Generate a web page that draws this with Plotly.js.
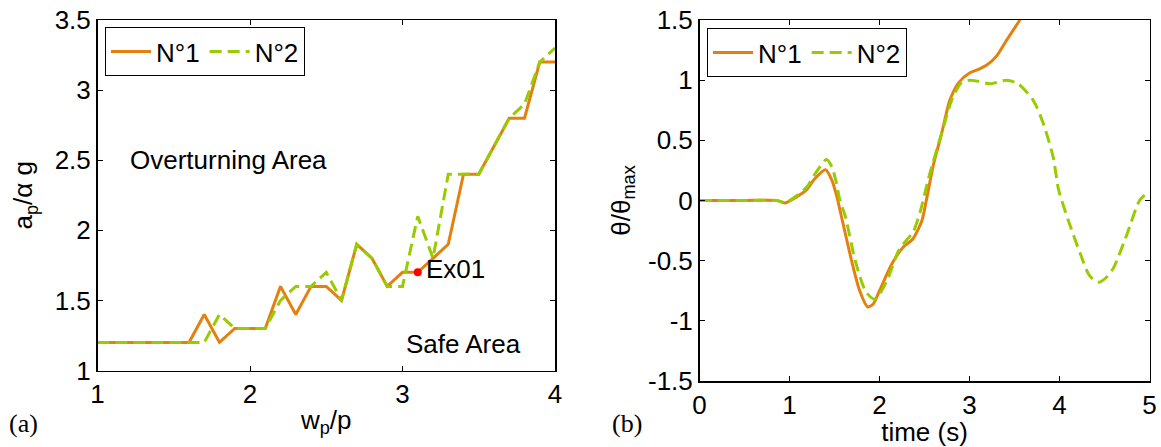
<!DOCTYPE html>
<html>
<head>
<meta charset="utf-8">
<script src="https://cdn.plot.ly/plotly-3.0.1.min.js"></script>
<style>html,body{margin:0;padding:0;background:#fff;}#chart{width:1161px;height:447px;}</style>
</head>
<body>
<div id="chart"></div>
<script>
// ---- Panel (a): stability boundary ----
const wpRatio = [1.0,1.1,1.2,1.3,1.4,1.5,1.6,1.7,1.8,1.9,2.0,2.1,2.2,2.3,2.4,2.5,2.6,2.7,2.8,2.9,3.0,3.1,3.2,3.3,3.4,3.5,3.6,3.7,3.8,3.9,4.0];
const apN1 = [1.2,1.2,1.2,1.2,1.2,1.2,1.2,1.4,1.2,1.3,1.3,1.3,1.6,1.4,1.6,1.6,1.5,1.9,1.8,1.6,1.7,1.7,1.8,1.9,2.4,2.4,2.6,2.8,2.8,3.2,3.2];
const apN2 = [1.2,1.2,1.2,1.2,1.2,1.2,1.2,1.2,1.4,1.3,1.3,1.3,1.5,1.6,1.6,1.7,1.5,1.9,1.8,1.6,1.6,2.1,1.8,2.4,2.4,2.4,2.6,2.8,2.9,3.2,3.3];
const exPoint = {x: [3.1], y: [1.7], label: "Ex01"};

// ---- Panel (b): rotation time histories ----
const timeN1 = [0,0.5,0.86,0.95,1.08,1.19,1.28,1.40,1.47,1.52,1.57,1.69,1.78,1.87,1.93,2.0,2.135,2.26,2.37,2.47,2.52,2.6,2.69,2.78,2.88,3.0,3.1,3.2,3.3,3.41,3.56,3.65];
const thetaN1 = [0,0,0,-0.02,0.03,0.09,0.18,0.255,0.17,0.05,-0.11,-0.5,-0.75,-0.885,-0.86,-0.75,-0.53,-0.39,-0.32,-0.17,0.0,0.3,0.556,0.83,0.98,1.06,1.09,1.13,1.2,1.33,1.5,1.6];
const timeN2 = [0,0.5,0.86,0.95,1.08,1.19,1.30,1.41,1.47,1.52,1.56,1.62,1.73,1.85,1.95,2.08,2.21,2.3,2.375,2.45,2.54,2.58,2.69,2.80,2.91,3.0,3.1,3.23,3.41,3.54,3.71,3.82,3.93,3.99,4.10,4.23,4.33,4.43,4.52,4.6,4.75,4.89,5.0];
const thetaN2 = [0,0,0,-0.02,0.04,0.11,0.24,0.34,0.28,0.15,0.0,-0.13,-0.5,-0.76,-0.82,-0.67,-0.42,-0.33,-0.26,-0.1,0.17,0.28,0.556,0.83,0.98,1.0,0.99,0.97,1.0,0.97,0.83,0.64,0.36,0.09,-0.17,-0.44,-0.62,-0.68,-0.64,-0.56,-0.28,0.0,0.08];

const seriesNames = ["N°1", "N°2"];
const cOrange = "#E5800F", cGreen = "#99CC00";
const W = 1161, H = 447;
const px = v => v / W, py = v => 1 - v / H;
const dashPat = "12px,6px";

const traces = [
  {x: wpRatio, y: apN1, name: seriesNames[0], type: "scatter", mode: "lines", xaxis: "x", yaxis: "y",
   line: {color: cOrange, width: 3}, legend: "legend"},
  {x: wpRatio, y: apN2, name: seriesNames[1], type: "scatter", mode: "lines", xaxis: "x", yaxis: "y",
   line: {color: cGreen, width: 3, dash: dashPat}, legend: "legend"},
  {x: exPoint.x, y: exPoint.y, type: "scatter", mode: "markers", xaxis: "x", yaxis: "y", showlegend: false,
   marker: {color: "#FF0000", size: 8}},
  {x: timeN1, y: thetaN1, name: seriesNames[0], type: "scatter", mode: "lines", xaxis: "x2", yaxis: "y2",
   line: {color: cOrange, width: 3, shape: "spline", smoothing: 0.7}, legend: "legend2"},
  {x: timeN2, y: thetaN2, name: seriesNames[1], type: "scatter", mode: "lines", xaxis: "x2", yaxis: "y2",
   line: {color: cGreen, width: 3, dash: dashPat, shape: "spline", smoothing: 0.7}, legend: "legend2"}
];

const font = {family: "Liberation Sans, Arial, sans-serif", size: 26, color: "#000"};
const axBase = {showgrid: false, zeroline: false, showline: true, linecolor: "#000", linewidth: 1.5,
  mirror: "ticks", ticks: "inside", ticklen: 5, tickcolor: "#000", tickfont: font, automargin: false};

const legBase = {orientation: "h", bgcolor: "#fff", bordercolor: "#000", borderwidth: 1,
  font: font, xanchor: "left", yanchor: "top", itemwidth: 40, tracegroupgap: 0};

const layout = {
  width: W, height: H, margin: {l: 0, r: 0, t: 0, b: 0},
  paper_bgcolor: "#fff", plot_bgcolor: "#fff", font: font, showlegend: true,
  xaxis: Object.assign({}, axBase, {domain: [px(97.5), px(555)], range: [1, 4], tickvals: [1,2,3,4],
    anchor: "y", title: {text: "w<sub>p</sub>/p", font: font, standoff: 2}}),
  yaxis: Object.assign({}, axBase, {domain: [py(370.5), py(20)], range: [1, 3.5], tickvals: [1,1.5,2,2.5,3,3.5],
    anchor: "x", title: {text: "a<sub>p</sub>/α g", font: font, standoff: 14}}),
  xaxis2: Object.assign({}, axBase, {domain: [px(699.5), px(1149.5)], range: [0, 5], tickvals: [0,1,2,3,4,5],
    anchor: "y2", title: {text: "time (s)", font: font, standoff: 0}}),
  yaxis2: Object.assign({}, axBase, {domain: [py(381), py(20)], range: [-1.5, 1.5], tickvals: [-1.5,-1,-0.5,0,0.5,1,1.5],
    ticktext: ["-1.5","-1","-0.5","0","0.5","1","1.5"],
    anchor: "x2", title: {text: "θ/θ<sub>max</sub>", font: font, standoff: 10}}),
  legend: Object.assign({}, legBase, {x: px(105), y: py(27)}),
  legend2: Object.assign({}, legBase, {x: px(707), y: py(28)}),
  annotations: [
    {xref: "x", yref: "y", x: 1.2, y: 2.5, text: "Overturning Area", showarrow: false, xanchor: "left", font: font},
    {xref: "x", yref: "y", x: 3.01, y: 1.19, text: "Safe Area", showarrow: false, xanchor: "left", font: font},
    {xref: "x", yref: "y", x: exPoint.x[0], y: exPoint.y[0], text: exPoint.label, showarrow: false, xanchor: "left", xshift: 6, yshift: 3, font: font},
    {xref: "paper", yref: "paper", x: px(7), y: py(423), text: "(a)", showarrow: false, xanchor: "left", yanchor: "middle",
     font: {family: "Liberation Serif, Times New Roman, serif", size: 26, color: "#000"}},
    {xref: "paper", yref: "paper", x: px(610), y: py(423), text: "(b)", showarrow: false, xanchor: "left", yanchor: "middle",
     font: {family: "Liberation Serif, Times New Roman, serif", size: 26, color: "#000"}}
  ]
};

Plotly.newPlot("chart", traces, layout, {displayModeBar: false, staticPlot: true});
</script>
</body>
</html>
